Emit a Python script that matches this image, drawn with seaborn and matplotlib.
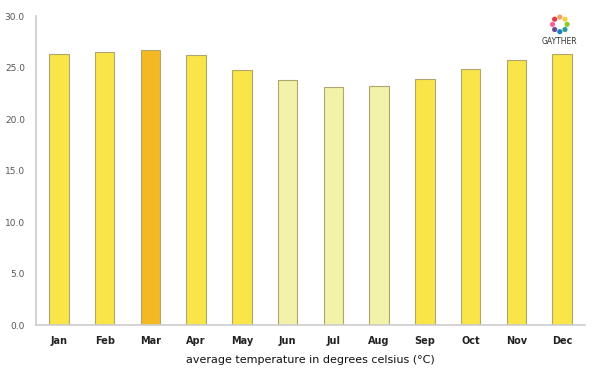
import matplotlib
matplotlib.use("Agg")
import matplotlib.pyplot as plt
import seaborn as sns
import pandas as pd
import numpy as np

# datos
meses = ["Jan", "Feb", "Mar", "Apr", "May", "Jun", "Jul", "Aug", "Sep", "Oct", "Nov", "Dec"]
temperaturas = [26.3, 26.5, 26.7, 26.2, 24.8, 23.8, 23.1, 23.2, 23.9, 24.9, 25.7, 26.3]
colores = ["#F9E547", "#F9E547", "#F4B823", "#F9E547", "#F9E547", "#F2F2A8",
           "#F2F2A8", "#F2F2A8", "#F9E547", "#F9E547", "#F9E547", "#F9E547"]

df = pd.DataFrame({"mes": meses, "temp": temperaturas})

sns.set_style("white")
fig = plt.figure(figsize=(6, 3.75), dpi=100)
ax = fig.add_axes([0.06, 0.133, 0.915, 0.824])

sns.barplot(data=df, x="mes", y="temp", hue="mes", palette=colores, legend=False,
            saturation=1, width=0.43, edgecolor="#B0A470", linewidth=0.8, ax=ax)

ax.set_ylim(0, 30)
ax.set_yticks([0, 5, 10, 15, 20, 25, 30])
ax.set_yticklabels([f"{v:.1f}" for v in [0, 5, 10, 15, 20, 25, 30]])
ax.tick_params(axis="y", labelsize=6.5, labelcolor="#555555", length=0, pad=8)
ax.tick_params(axis="x", labelsize=7, labelcolor="#222222", length=0, pad=8)
for lbl in ax.get_xticklabels():
    lbl.set_fontweight("bold")
ax.set_ylabel("")
ax.set_xlabel("average temperature in degrees celsius (°C)", fontsize=8, color="#111111", labelpad=6)
sns.despine(ax=ax)
ax.spines["left"].set_color("#CCCCCC")
ax.spines["bottom"].set_color("#CCCCCC")
ax.spines["left"].set_linewidth(1.2)
ax.spines["bottom"].set_linewidth(1.2)

# logo
fig.text(0.933, 0.888, "GAYTHER", ha="center", va="center", fontsize=5.5, color="#333333")
logo_ax = fig.add_axes([0.905, 0.89, 0.056, 0.09])
logo_ax.set_xlim(-2.3, 2.3)
logo_ax.set_ylim(-2.3, 2.3)
logo_ax.set_aspect("equal")
logo_ax.axis("off")
ang = np.linspace(0, 2 * np.pi, 9)[:-1]
logo_cols = ["#8AC926", "#F4D03F", "#F4A261", "#E63946", "#FF5D8F", "#6A4C93", "#1982C4", "#2A9D8F"]
logo_ax.scatter(np.cos(ang), np.sin(ang), s=14, c=logo_cols, linewidths=0)

plt.savefig("out.png", dpi=100)
